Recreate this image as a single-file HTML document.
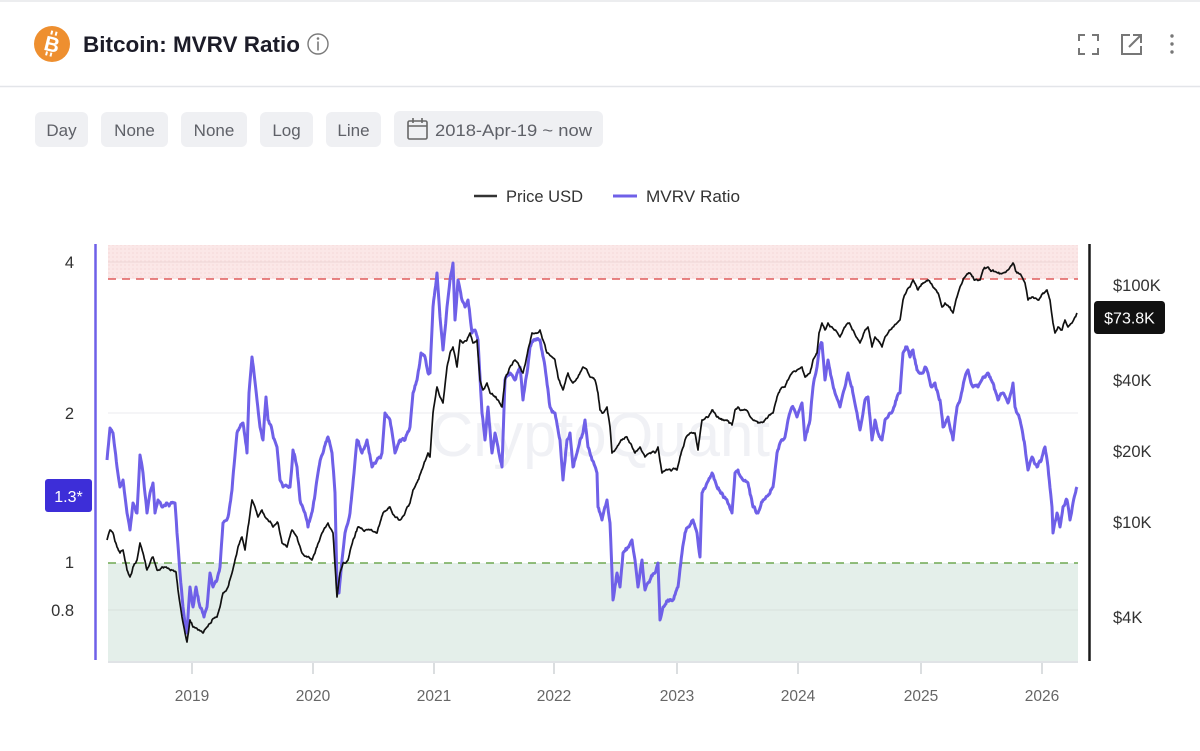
<!DOCTYPE html>
<html>
<head>
<meta charset="utf-8">
<style>
  html,body{margin:0;padding:0;background:#fff;}
  body{width:1200px;height:751px;overflow:hidden;}
  svg{display:block;}
  text{font-family:"Liberation Sans", "DejaVu Sans", sans-serif;}
</style>
</head>
<body>
<svg width="1200" height="751" viewBox="0 0 1200 751" xmlns="http://www.w3.org/2000/svg">
  <defs>
    <pattern id="dots" width="4" height="4" patternUnits="userSpaceOnUse">
      <rect width="4" height="4" fill="#fbe7e7"/>
      <circle cx="1" cy="1" r="0.6" fill="#f3d2d2"/>
    </pattern>
  </defs>

  <!-- card borders -->
  <line x1="0" y1="1" x2="1200" y2="1" stroke="#e6e7ea" stroke-width="1.5"/>
  <line x1="0" y1="86.5" x2="1200" y2="86.5" stroke="#e3e5e9" stroke-width="1.5"/>

  <!-- bitcoin logo -->
  <circle cx="52" cy="44" r="18" fill="#ee8f2f"/>
  <g transform="rotate(14 52 44)">
    <text x="52" y="51.5" text-anchor="middle" font-size="21" font-weight="bold" fill="#fff">B</text>
    <rect x="48" y="31" width="2" height="4" fill="#fff"/>
    <rect x="52.5" y="31" width="2" height="4" fill="#fff"/>
    <rect x="48" y="52.5" width="2" height="4" fill="#fff"/>
    <rect x="52.5" y="52.5" width="2" height="4" fill="#fff"/>
  </g>

  <!-- title -->
  <text x="83" y="52" font-size="22.5" font-weight="bold" fill="#1c1c28" textLength="217" lengthAdjust="spacingAndGlyphs">Bitcoin: MVRV Ratio</text>
  <circle cx="318" cy="44" r="10" fill="none" stroke="#7a7a7a" stroke-width="1.4"/>
  <circle cx="318" cy="38.5" r="1.3" fill="#7a7a7a"/>
  <rect x="317.2" y="41.5" width="1.6" height="9" fill="#7a7a7a"/>

  <!-- right header icons -->
  <g fill="none" stroke="#777" stroke-width="2">
    <path d="M1079 41 V35 H1085"/>
    <path d="M1092 35 H1098 V41"/>
    <path d="M1098 48 V54 H1092"/>
    <path d="M1085 54 H1079 V48"/>
    <path d="M1130 35 H1122 V54 H1141 V46"/>
    <path d="M1129 47 L1140 36"/>
    <path d="M1133 35 H1141 V43"/>
  </g>
  <circle cx="1172" cy="36" r="1.7" fill="#777"/>
  <circle cx="1172" cy="44" r="1.7" fill="#777"/>
  <circle cx="1172" cy="52" r="1.7" fill="#777"/>

  <!-- toolbar buttons -->
  <g fill="#eff0f3">
    <rect x="35" y="112" width="53" height="35" rx="6"/>
    <rect x="101" y="112" width="67" height="35" rx="6"/>
    <rect x="181" y="112" width="66" height="35" rx="6"/>
    <rect x="260" y="112" width="53" height="35" rx="6"/>
    <rect x="326" y="112" width="55" height="35" rx="6"/>
    <rect x="394" y="111" width="209" height="36" rx="6"/>
  </g>
  <g font-size="17" fill="#5f6168" text-anchor="middle">
    <text x="61.5" y="136">Day</text>
    <text x="134.5" y="136">None</text>
    <text x="214" y="136">None</text>
    <text x="286.5" y="136">Log</text>
    <text x="353.5" y="136">Line</text>
  </g>
  <g fill="none" stroke="#666" stroke-width="1.6">
    <rect x="408" y="121" width="19" height="18" rx="1.5"/>
    <line x1="408" y1="126" x2="427" y2="126"/>
    <line x1="413" y1="118" x2="413" y2="123"/>
    <line x1="422" y1="118" x2="422" y2="123"/>
  </g>
  <text x="435" y="136" font-size="17" fill="#5f6168" textLength="157" lengthAdjust="spacingAndGlyphs">2018-Apr-19 ~ now</text>

  <!-- legend -->
  <line x1="474" y1="196" x2="497" y2="196" stroke="#333" stroke-width="2.5"/>
  <text x="506" y="202" font-size="17" fill="#333" textLength="77" lengthAdjust="spacingAndGlyphs">Price USD</text>
  <line x1="613" y1="196" x2="637" y2="196" stroke="#6f60e8" stroke-width="3"/>
  <text x="646" y="202" font-size="17" fill="#333" textLength="94" lengthAdjust="spacingAndGlyphs">MVRV Ratio</text>

  <!-- plot zones -->
  <rect x="108" y="245" width="970" height="34" fill="url(#dots)"/>
  <rect x="108" y="563" width="970" height="98" fill="#e4efea"/>

  <!-- grid -->
  <g stroke="#efeff2" stroke-width="1.2">
    <line x1="108" y1="262" x2="1078" y2="262" stroke="#f0d9d9"/>
    <line x1="108" y1="413" x2="1078" y2="413"/>
    <line x1="108" y1="610" x2="1078" y2="610" stroke="#d9e4df"/>
  </g>

  <!-- threshold lines -->
  <line x1="108" y1="279" x2="1078" y2="279" stroke="#e05c5c" stroke-width="1.6" stroke-dasharray="8,6"/>
  <line x1="108" y1="563" x2="1078" y2="563" stroke="#6ea852" stroke-width="1.6" stroke-dasharray="8,6"/>

  <!-- watermark -->
  <text x="600" y="456" text-anchor="middle" font-size="62" fill="#f0f1f5" textLength="340" lengthAdjust="spacingAndGlyphs">CryptoQuant</text>

  <!-- MVRV line -->
  <polyline id="mvrv" fill="none" stroke="#6f60e8" stroke-width="3" stroke-linejoin="round" points="107,460 110,428 113,433 117,467 120,487 123,480 127,513 130,530 133,503 137,513 140,455 143,473 147,513 150,493 153,483 155,513 158,500 162,507 167,503 172,503 175,503 177,533 180,573 183,607 185,623 187,633 190,587 193,607 196,587 200,607 204,617 207,607 210,573 213,587 217,580 220,567 223,523 228,517 232,490 237,433 240,427 243,423 247,453 249,393 252,357 254,373 257,400 260,427 263,440 266,397 268,420 272,430 277,447 280,480 283,487 290,487 293,450 297,467 300,500 305,513 308,527 313,507 318,473 323,453 328,437 332,453 335,493 337,587 339,593 342,560 345,533 350,513 354,473 357,440 362,453 367,440 372,467 377,460 382,453 385,413 390,420 395,453 400,440 405,440 410,427 413,393 417,380 421,353 425,357 428,373 430,373 433,307 437,273 440,317 443,350 447,307 450,280 453,263 455,320 458,280 462,300 465,307 468,300 472,333 475,330 478,340 482,413 485,440 488,407 492,453 495,433 498,447 502,467 505,380 510,373 515,380 520,367 523,400 527,373 530,347 535,340 540,340 545,367 550,407 555,413 560,440 563,480 567,440 570,433 573,467 577,453 580,440 583,433 585,420 588,447 592,460 597,473 598,507 602,520 607,500 610,523 612,573 613,600 617,573 620,587 623,553 628,547 632,540 635,560 638,587 642,560 645,590 650,580 655,573 658,563 660,620 663,607 668,600 673,600 678,587 682,553 685,533 688,527 693,520 697,533 700,557 702,493 707,483 712,473 717,487 722,493 727,500 732,513 735,473 738,470 743,480 748,483 753,507 758,513 763,500 770,493 773,487 777,453 780,443 785,437 788,420 792,407 797,417 802,403 805,440 810,420 813,387 817,367 819,350 822,343 825,380 828,360 832,380 835,393 840,407 845,387 848,373 852,387 857,413 860,430 865,400 868,397 872,440 875,420 878,433 882,440 885,420 890,413 893,410 897,397 900,393 903,353 907,347 910,357 913,350 917,370 922,373 925,367 928,373 932,387 935,383 940,400 943,427 948,417 953,440 957,407 960,400 965,377 968,370 973,387 978,387 983,377 988,373 993,383 998,400 1003,393 1008,403 1013,383 1015,407 1020,420 1025,447 1028,470 1032,457 1037,467 1042,457 1045,447 1048,467 1052,507 1053,533 1057,513 1060,527 1063,507 1067,500 1070,520 1073,503 1077,487"/>

  <!-- Price line -->
  <polyline id="price" fill="none" stroke="#111" stroke-width="1.7" stroke-linejoin="round" points="107,540 110,530 113,533 117,547 120,553 123,550 127,570 130,577 133,567 137,560 140,543 143,553 147,570 150,563 153,557 157,570 162,567 167,568 172,570 176,572 178,590 182,617 185,633 187,642 190,620 193,627 198,630 203,633 207,627 212,620 217,617 220,607 223,593 228,587 232,573 235,560 238,547 242,537 245,550 248,527 252,500 255,507 258,517 262,510 265,517 268,520 273,527 278,523 282,543 287,547 292,530 297,537 302,553 307,557 312,560 317,547 322,533 328,523 333,533 337,597 340,573 343,563 348,560 353,540 358,527 363,530 370,530 377,533 383,513 390,507 395,517 400,520 405,513 410,503 413,490 418,480 423,467 428,453 430,457 433,413 437,387 440,397 443,403 447,367 450,353 453,347 457,367 460,340 463,343 467,340 470,333 473,343 477,340 480,380 483,390 487,383 490,393 495,397 498,400 502,407 505,380 510,367 515,360 518,363 523,373 528,350 532,333 537,333 540,330 543,340 547,353 552,357 555,360 558,377 563,390 568,373 573,383 578,377 583,367 587,370 590,377 595,380 598,393 600,410 603,413 607,407 610,427 612,453 617,447 622,440 627,437 630,443 635,453 640,447 645,457 650,453 655,453 658,447 662,473 667,470 672,470 677,470 680,457 685,440 690,433 695,433 698,450 702,420 707,417 712,410 717,417 722,420 727,420 732,425 735,410 738,407 743,410 748,412 753,420 758,423 763,422 768,417 773,413 777,397 780,390 785,387 788,380 792,373 797,370 802,367 805,377 810,373 813,360 817,353 819,333 822,323 825,330 828,323 832,327 835,330 840,337 845,327 848,323 853,330 860,343 865,330 868,327 872,347 875,337 878,340 882,347 885,337 890,330 893,327 897,323 900,320 903,300 907,290 910,287 913,280 918,290 923,283 928,280 933,287 938,293 942,307 945,303 950,307 953,313 957,297 960,287 965,277 970,273 975,280 980,280 983,270 988,267 993,270 998,273 1003,273 1008,270 1013,263 1017,273 1022,277 1025,283 1028,300 1033,297 1038,300 1043,293 1047,290 1050,300 1053,323 1055,333 1058,327 1062,330 1065,320 1068,327 1072,323 1075,317 1077,313"/>

  <!-- axes -->
  <line x1="95.5" y1="244" x2="95.5" y2="660" stroke="#6f60e8" stroke-width="2.5"/>
  <line x1="1089.5" y1="244" x2="1089.5" y2="661" stroke="#1a1a1a" stroke-width="2.5"/>
  <line x1="108" y1="662" x2="1078" y2="662" stroke="#d6dade" stroke-width="1.5"/>
  <g stroke="#cfd2d6" stroke-width="1.5">
    <line x1="192" y1="663" x2="192" y2="674"/>
    <line x1="313" y1="663" x2="313" y2="674"/>
    <line x1="434" y1="663" x2="434" y2="674"/>
    <line x1="554" y1="663" x2="554" y2="674"/>
    <line x1="677" y1="663" x2="677" y2="674"/>
    <line x1="798" y1="663" x2="798" y2="674"/>
    <line x1="921" y1="663" x2="921" y2="674"/>
    <line x1="1042" y1="663" x2="1042" y2="674"/>
  </g>
  <g font-size="15.5" fill="#666" text-anchor="middle">
    <text x="192" y="701">2019</text>
    <text x="313" y="701">2020</text>
    <text x="434" y="701">2021</text>
    <text x="554" y="701">2022</text>
    <text x="677" y="701">2023</text>
    <text x="798" y="701">2024</text>
    <text x="921" y="701">2025</text>
    <text x="1042" y="701">2026</text>
  </g>

  <!-- left axis labels -->
  <g font-size="16.5" fill="#333" text-anchor="end">
    <text x="74" y="268">4</text>
    <text x="74" y="419">2</text>
    <text x="74" y="568">1</text>
    <text x="74" y="616">0.8</text>
  </g>
  <rect x="45" y="479" width="47" height="33" rx="3" fill="#3d2ed8"/>
  <text x="68.5" y="502" font-size="16" fill="#fff" text-anchor="middle">1.3*</text>

  <!-- right axis labels -->
  <g font-size="16.5" fill="#333">
    <text x="1113" y="291">$100K</text>
    <text x="1113" y="386">$40K</text>
    <text x="1113" y="457">$20K</text>
    <text x="1113" y="528">$10K</text>
    <text x="1113" y="623">$4K</text>
  </g>
  <rect x="1094" y="301" width="71" height="33" rx="3.5" fill="#111"/>
  <text x="1129.5" y="323.5" font-size="16" fill="#fff" text-anchor="middle">$73.8K</text>
</svg>
<script>
(function(){
  var seed = 12345;
  function rnd(){ seed = (seed*1103515245 + 12345) & 0x7fffffff; return seed/0x7fffffff; }
  function gauss(){ return (rnd()+rnd()+rnd()-1.5)*1.15; }
  function roughen(id, sd, step){
    var el = document.getElementById(id);
    if(!el) return;
    var pts = el.getAttribute('points').trim().split(/\s+/).map(function(p){var a=p.split(',');return [+a[0],+a[1]];});
    var out = [];
    for(var i=0;i<pts.length-1;i++){
      var p0=pts[i], p1=pts[i+1];
      var dx=p1[0]-p0[0];
      var n=Math.max(1, Math.round(dx/step));
      var w=[0];
      for(var k=1;k<=n;k++){ w.push(w[k-1]+gauss()*sd); }
      var wn=w[n];
      for(var k=0;k<n;k++){
        var t=k/n;
        var x=p0[0]+dx*t;
        var y=p0[1]+(p1[1]-p0[1])*t + (w[k]-wn*t);
        out.push(x.toFixed(2)+','+y.toFixed(2));
      }
    }
    var last=pts[pts.length-1];
    out.push(last[0]+','+last[1]);
    el.setAttribute('points', out.join(' '));
  }
  roughen('mvrv', 1.6, 0.7);
  roughen('price', 1.0, 0.7);
})();
</script>
</body>
</html>
